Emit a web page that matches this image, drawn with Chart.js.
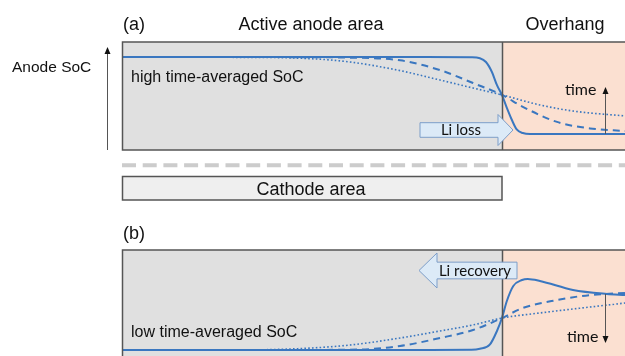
<!DOCTYPE html>
<html>
<head>
<meta charset="utf-8">
<script src="https://cdn.jsdelivr.net/npm/chart.js@4"></script>
<style>
  body { margin: 0; background: #fff; width: 625px; height: 356px; overflow: hidden; position: relative; }
  canvas { position: absolute; left: 0; }
  #chartA { top: 0; }
  #chartB { top: 215px; }
</style>
</head>
<body>
<canvas id="chartA" width="625" height="215"></canvas>
<canvas id="chartB" width="625" height="145"></canvas>
<script>
// position along the anode in % of the active area (100 = cathode edge, beyond = overhang)
const CATHODE_EDGE = 100;
const X_MAX = 132.4;

// (a) high time-averaged SoC -> Li moves into the overhang
const xSolidA  = [0, 80, 92, 94.2, 95.8, 97.4, 98.7, 100, 101.3, 102.6, 103.9, 105.5, 107.4, 110, 132.4];
const ySolidA  = [0.86, 0.86, 0.858, 0.85, 0.815, 0.72, 0.6, 0.51, 0.39, 0.28, 0.19, 0.157, 0.148, 0.148, 0.148];
const xDashA   = [0, 40, 60, 73.2, 83.7, 92.4, 100, 105.5, 114.5, 123.2, 132.4];
const yDashA   = [0.86, 0.86, 0.855, 0.83, 0.74, 0.62, 0.51, 0.4, 0.26, 0.2, 0.176];
const xDotA    = [0, 30, 46.8, 60, 73.2, 83.7, 92.4, 100, 110, 118.7, 132.4];
const yDotA    = [0.86, 0.858, 0.85, 0.815, 0.735, 0.648, 0.574, 0.51, 0.417, 0.361, 0.315];

// (b) low time-averaged SoC -> Li comes back from the overhang
const xSolidB  = [0, 80, 92, 94.2, 96.8, 98.7, 100, 101.3, 103, 105.3, 106.8, 110, 118.7, 127.6, 132.4];
const ySolidB  = [0.074, 0.074, 0.076, 0.085, 0.123, 0.25, 0.37, 0.528, 0.667, 0.722, 0.731, 0.713, 0.63, 0.593, 0.583];
const xDashB   = [0, 40, 62.6, 73.2, 83.7, 92.4, 100, 105.5, 114.5, 123.2, 132.4];
const yDashB   = [0.074, 0.074, 0.079, 0.111, 0.185, 0.259, 0.37, 0.463, 0.537, 0.583, 0.602];
const xDotB    = [0, 30, 44.2, 60, 73.2, 83.7, 92.4, 100, 110, 123.2, 132.4];
const yDotB    = [0.074, 0.075, 0.083, 0.12, 0.185, 0.25, 0.306, 0.37, 0.417, 0.472, 0.509];

const BLUE = "#3a77c0";
const SANS = "'Liberation Sans', Arial, sans-serif";
const CAL = "Lato, 'Open Sans', sans-serif";

function pts(xs, ys) {
  return xs.map((x, i) => ({ x, y: ys[i] }));
}

function lineSets(xs1, ys1, xs2, ys2, xs3, ys3) {
  return [
    { data: pts(xs1, ys1), borderColor: BLUE, borderWidth: 2 },
    { data: pts(xs2, ys2), borderColor: BLUE, borderWidth: 2, borderDash: [7, 5] },
    { data: pts(xs3, ys3), borderColor: BLUE, borderWidth: 1.6, borderDash: [1.6, 2.2] }
  ];
}

function text(ctx, s, x, y, font, align) {
  ctx.font = font;
  ctx.fillStyle = "#111";
  ctx.textAlign = align || "left";
  ctx.textBaseline = "alphabetic";
  ctx.fillText(s, x, y);
}

// wide block arrow, tail and tip on the same horizontal line
function blockArrow(ctx, tail, headBase, tip, yc, bodyH, headH) {
  ctx.beginPath();
  ctx.moveTo(tail, yc - bodyH / 2);
  ctx.lineTo(headBase, yc - bodyH / 2);
  ctx.lineTo(headBase, yc - headH / 2);
  ctx.lineTo(tip, yc);
  ctx.lineTo(headBase, yc + headH / 2);
  ctx.lineTo(headBase, yc + bodyH / 2);
  ctx.lineTo(tail, yc + bodyH / 2);
  ctx.closePath();
  ctx.fillStyle = "#dceaf7";
  ctx.fill();
  ctx.strokeStyle = "#7d9ec9";
  ctx.lineWidth = 1;
  ctx.stroke();
}

// thin vertical arrow with small head at y2
function thinArrow(ctx, x, y1, y2) {
  const dir = y2 < y1 ? -1 : 1;
  ctx.strokeStyle = "#555";
  ctx.lineWidth = 1;
  ctx.beginPath();
  ctx.moveTo(x, y1);
  ctx.lineTo(x, y2 - dir * 6);
  ctx.stroke();
  ctx.fillStyle = "#111";
  ctx.beginPath();
  ctx.moveTo(x, y2);
  ctx.lineTo(x - 3, y2 - dir * 7);
  ctx.lineTo(x + 3, y2 - dir * 7);
  ctx.closePath();
  ctx.fill();
}

const panel = {
  id: "panel",
  beforeDatasetsDraw(chart) {
    const { ctx, chartArea: a, scales: { x } } = chart;
    const edge = Math.round(x.getPixelForValue(CATHODE_EDGE));
    ctx.save();
    ctx.fillStyle = "#e0e0e0";
    ctx.fillRect(a.left, a.top, edge - a.left, a.bottom - a.top);
    ctx.fillStyle = "#fbe0d1";
    ctx.fillRect(edge, a.top, a.right - edge, a.bottom - a.top);
    ctx.restore();
  },
  afterDatasetsDraw(chart, args, opts) {
    const { ctx, chartArea: a, scales: { x } } = chart;
    const edge = Math.round(x.getPixelForValue(CATHODE_EDGE)) + 0.5;
    ctx.save();
    ctx.strokeStyle = "#555";
    ctx.lineWidth = 1.5;
    ctx.beginPath();
    ctx.moveTo(a.right, a.top); ctx.lineTo(a.left + 0.5, a.top);
    ctx.lineTo(a.left + 0.5, a.bottom); ctx.lineTo(a.right, a.bottom);
    ctx.moveTo(edge, a.top); ctx.lineTo(edge, a.bottom);
    ctx.stroke();
    opts.extra(ctx, chart);
    ctx.restore();
  }
};

function baseOptions(pad, extra) {
  return {
    responsive: false,
    animation: false,
    layout: { padding: pad },
    elements: { point: { radius: 0 }, line: { cubicInterpolationMode: "monotone" } },
    plugins: { legend: { display: false }, tooltip: { enabled: false }, panel: { extra } },
    scales: {
      x: { type: "linear", min: 0, max: X_MAX, display: false },
      y: { min: 0, max: 1, display: false }
    }
  };
}

new Chart(document.getElementById("chartA"), {
  type: "line",
  data: { datasets: lineSets(xSolidA, ySolidA, xDashA, yDashA, xDotA, yDotA) },
  plugins: [panel],
  options: baseOptions({ left: 122, right: 0, top: 42, bottom: 65 }, (ctx, chart) => {
    const a = chart.chartArea;
    text(ctx, "(a)", 123, 29.5, "18px " + SANS);
    text(ctx, "Active anode area", 311, 29.5, "18px " + SANS, "center");
    text(ctx, "Overhang", 565, 29.5, "18px " + SANS, "center");
    text(ctx, "Anode SoC", 12, 72, "15.5px " + SANS);
    text(ctx, "high time-averaged SoC", 131, 82, "16px " + SANS);

    // SoC axis arrow
    thinArrow(ctx, 107.5, 150, 47);

    blockArrow(ctx, 420, 498, 513, 130, 14.6, 31);
    text(ctx, "Li loss", 461, 135, "15px " + CAL, "center");

    text(ctx, "time", 565, 95, "16px " + CAL);
    thinArrow(ctx, 605.5, 134, 87);

    // dashed separator
    ctx.strokeStyle = "#cccccc";
    ctx.lineWidth = 4;
    ctx.setLineDash([14, 6.7]);
    ctx.beginPath();
    ctx.moveTo(a.left, 165.3); ctx.lineTo(625, 165.3);
    ctx.stroke();
    ctx.setLineDash([]);

    // cathode
    ctx.fillStyle = "#efefef";
    ctx.fillRect(122.5, 176.5, 379.5, 23.5);
    ctx.strokeStyle = "#555";
    ctx.lineWidth = 1.5;
    ctx.strokeRect(122.5, 176.5, 379.5, 23.5);
    text(ctx, "Cathode area", 311, 195, "18px " + SANS, "center");
  })
});

new Chart(document.getElementById("chartB"), {
  type: "line",
  data: { datasets: lineSets(xSolidB, ySolidB, xDashB, yDashB, xDotB, yDotB) },
  plugins: [panel],
  options: baseOptions({ left: 122, right: 0, top: 35, bottom: 2 }, (ctx) => {
    text(ctx, "(b)", 123, 24, "18px " + SANS);
    text(ctx, "low time-averaged SoC", 131, 121.7, "16px " + SANS);

    blockArrow(ctx, 517, 437, 419, 55.5, 16.7, 35);
    text(ctx, "Li recovery", 475, 61, "15px " + CAL, "center");

    text(ctx, "time", 567, 126.7, "16px " + CAL);
    thinArrow(ctx, 605.5, 79, 128);
  })
});
</script>
</body>
</html>
